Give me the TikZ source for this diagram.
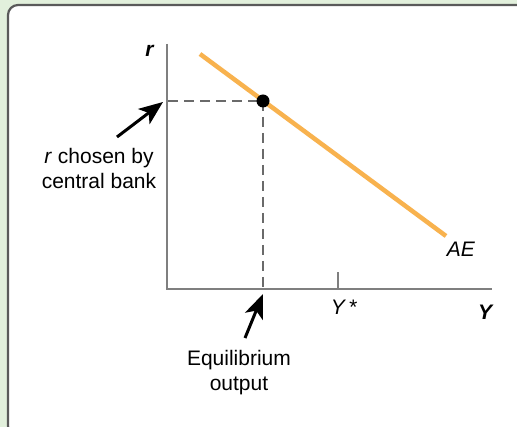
\documentclass[tikz,border=0pt]{standalone}
\usepackage{fontspec}
\setmainfont{Liberation Sans}
\usetikzlibrary{arrows.meta}
\definecolor{bggreen}{HTML}{E2F0DC}
\definecolor{frame}{HTML}{5A5A5A}
\definecolor{aecol}{HTML}{F8B24E}
\definecolor{axiscol}{HTML}{7F7F7F}
\definecolor{dashcol}{HTML}{6A6A6A}
\tikzset{
  lbl/.style={inner sep=0pt, font=\fontsize{21}{25}\selectfont},
  axisline/.style={axiscol, line width=1.8pt},
  guide/.style={dashcol, line width=1.8pt, dash pattern=on 10pt off 6pt},
  pointer/.style={black, line width=3pt, -{Stealth[length=24pt,width=19pt,inset=6pt]}},
  aeline/.style={aecol, line width=4.5pt},
}
\begin{document}
\begin{tikzpicture}[x=1pt,y=-1pt]
\useasboundingbox (0,0) rectangle (517,427);
\fill[bggreen] (0,0) rectangle (517,427);
\begin{scope}
\clip (0,0) rectangle (517,427);
\draw[frame, line width=2.2pt, fill=white, rounded corners=10pt] (8,5) rectangle (530,436);
\end{scope}
% axes
\coordinate (O) at (167,289);
\coordinate (ytop) at (167,44);
\coordinate (xend) at (492,289);
\draw[axisline] (ytop) -- (O) -- (xend);
% Y* tick
\coordinate (tickb) at (338,289);
\coordinate (ticks) at (338,272);
\draw[axisline] (tickb) -- (ticks);
% AE line
\coordinate (aeA) at (200,54);
\coordinate (aeB) at (446,236);
\draw[aeline] (aeA) -- (aeB);
% equilibrium point and guides
\coordinate (E) at (263,101);
\coordinate (Ey) at (168,101);
\coordinate (Ex) at (263,289);
\draw[guide] (Ey) -- (E);
\draw[guide] (E) -- (Ex);
\node[circle, fill=black, minimum size=13pt, inner sep=0pt] (dot) at (E) {};
% labels
\node[lbl, anchor=base] (rlab) at (150,57) {\textbf{\textit{r}}};
\node[lbl, anchor=base] (Ylab) at (486,320) {\textbf{\textit{Y}}};
\node[lbl, anchor=base] (Ystar) at (344,315) {\textit{Y\,*}};
\node[lbl, anchor=base] (AElab) at (461,257) {\textit{AE}};
\node[lbl, anchor=north, align=center] (rchosen) at (99,148.5) {\textit{r} chosen by\\central bank};
\node[lbl, anchor=north, align=center] (eqout) at (239,350) {Equilibrium\\output};
% pointers
\coordinate (rtail) at (117,137);
\coordinate (rhead) at (163,102);
\draw[pointer] (rtail) -- (rhead);
\coordinate (etail) at (245,338);
\coordinate (ehead) at (263,294);
\draw[pointer] (etail) -- (ehead);
\end{tikzpicture}
\end{document}
